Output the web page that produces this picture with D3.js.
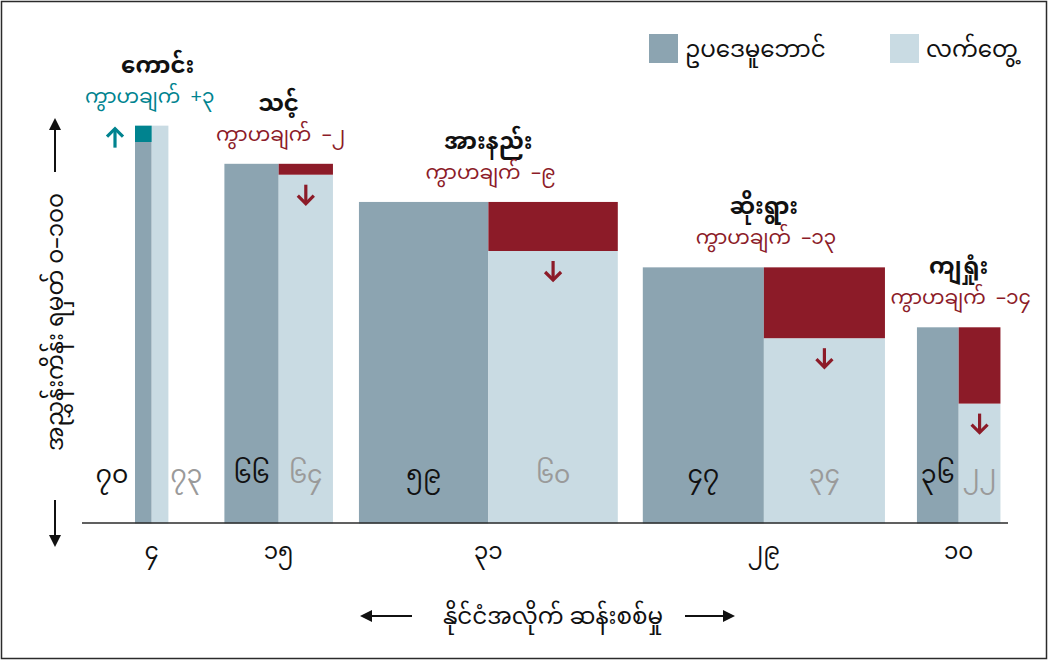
<!DOCTYPE html>
<html>
<head>
<meta charset="utf-8">
<script src="https://cdn.jsdelivr.net/npm/d3@7/dist/d3.min.js"></script>
<style>
  html, body { margin: 0; padding: 0; background: #fff; }
  svg { display: block; }
  text { font-family: "Noto Sans Myanmar", "Padauk", "Myanmar Text", "Noto Sans", sans-serif; }
</style>
</head>
<body>
<svg id="chart" width="1048" height="660"></svg>
<script>
// ---------- data ----------
const countries = ["ကောင်း", "သင့်", "အားနည်း", "ဆိုးရွား", "ကျရှုံး"];
const share = [4, 13, 31, 29, 10];                 // width of each group
const shareLabels = ["၄", "၁၅", "၃၁", "၂၉", "၁၀"];
const legal = [70, 66, 59, 47, 36];                 // ဥပဒေမူဘောင်
const practice = [73, 64, 50, 34, 22];              // လက်တွေ့
const legalLabels = ["၇၀", "၆၆", "၅၉", "၄၇", "၃၆"];
const practiceLabels = ["၇၃", "၆၄", "၆၀", "၃၄", "၂၂"];
const seriesNames = ["ဥပဒေမူဘောင်", "လက်တွေ့"];
const gapWord = "ကွာဟချက်";
const yTitle = "အညွှန်းကိန်း ရမှတ် ၀–၁၀၀";
const xTitle = "နိုင်ငံအလိုက် ဆန်းစစ်မှု";

// ---------- style ----------
const C = { legal: "#8ca4b1", practice: "#c9dbe3", down: "#8c1b28", up: "#00838f", ink: "#111", grey: "#9a9a9a" };
const groupGaps = [56, 26, 25, 32];

const myDigits = "၀၁၂၃၄၅၆၇၈၉";
const toMy = n => String(Math.abs(n)).split("").map(d => myDigits[+d]).join("");

const svg = d3.select("#chart");

// frame
svg.append("rect").attr("x", 1.5).attr("y", 1.5).attr("width", 1045).attr("height", 657)
  .attr("fill", "none").attr("stroke", "#2b2b2b").attr("stroke-width", 1.5);

const y = d3.scaleLinear().domain([0, 100]).range([523.5, 523.5 - 545]);
const w = d3.scaleLinear().domain([0, 10]).range([0, 83.5]);

// group x positions
const x0 = 135;
const starts = [];
share.reduce((acc, s, i) => { starts.push(acc); return acc + w(s) + (groupGaps[i] || 0); }, x0);

const groups = countries.map((c, i) => {
  const gw = w(share[i]);
  return { i, name: c, x: starts[i], gw, half: gw / 2, legal: legal[i], practice: practice[i], diff: practice[i] - legal[i] };
});

const g = svg.append("g");

// bars
groups.forEach(d => {
  g.append("rect").attr("x", d.x).attr("width", d.half)
    .attr("y", y(d.legal)).attr("height", y(0) - y(d.legal)).attr("fill", C.legal);
  g.append("rect").attr("x", d.x + d.half).attr("width", d.half)
    .attr("y", y(d.practice)).attr("height", y(0) - y(d.practice)).attr("fill", C.practice);
  if (d.diff < 0) {
    g.append("rect").attr("x", d.x + d.half).attr("width", d.half)
      .attr("y", y(d.legal)).attr("height", y(d.practice) - y(d.legal)).attr("fill", C.down);
    const ax = d.x + d.half * 1.5, ay = y(d.practice) + 10, len = 19;
    g.append("line").attr("x1", ax).attr("x2", ax).attr("y1", ay).attr("y2", ay + len)
      .attr("stroke", C.down).attr("stroke-width", 3.2);
    g.append("path").attr("d", `M${ax - 8},${ay + len - 8} L${ax},${ay + len} L${ax + 8},${ay + len - 8}`)
      .attr("fill", "none").attr("stroke", C.down).attr("stroke-width", 3.2);
  } else {
    g.append("rect").attr("x", d.x).attr("width", d.half)
      .attr("y", y(d.practice)).attr("height", y(d.legal) - y(d.practice)).attr("fill", C.up);
    const ax = d.x - 20, ay = y(d.practice) + 3, len = 19;
    g.append("line").attr("x1", ax).attr("x2", ax).attr("y1", ay).attr("y2", ay + len)
      .attr("stroke", C.up).attr("stroke-width", 3.2);
    g.append("path").attr("d", `M${ax - 8},${ay + 8} L${ax},${ay} L${ax + 8},${ay + 8}`)
      .attr("fill", "none").attr("stroke", C.up).attr("stroke-width", 3.2);
  }

  const top = y(Math.max(d.legal, d.practice));
  const cx = d.x + d.gw / 2;
  g.append("text").attr("x", cx + (d.i === 0 ? 6 : 0)).attr("y", top - 53).attr("text-anchor", "middle")
    .attr("font-size", 23).attr("font-weight", "bold").attr("fill", C.ink).text(d.name);
  const sign = d.diff >= 0 ? "+" : "–";
  g.append("text").attr("x", cx + (d.i === 0 ? -2 : 2)).attr("y", top - 23).attr("text-anchor", "middle")
    .attr("font-size", 20).attr("fill", d.diff >= 0 ? C.up : C.down)
    .attr("xml:space", "preserve").text(`${gapWord}  ${sign}${toMy(d.diff)}`);

  const narrow = d.half < 30;
  g.append("text").attr("x", narrow ? d.x - 23 : d.x + d.half / 2).attr("y", 483)
    .attr("text-anchor", "middle").attr("font-size", 25).attr("fill", C.ink).text(legalLabels[d.i]);
  g.append("text").attr("x", narrow ? d.x + d.gw + 18 : d.x + d.half * 1.5).attr("y", 483)
    .attr("text-anchor", "middle").attr("font-size", 25).attr("fill", C.grey).text(practiceLabels[d.i]);

  g.append("text").attr("x", cx).attr("y", 559).attr("text-anchor", "middle")
    .attr("font-size", 23).attr("fill", C.ink).text(shareLabels[d.i]);
});

// baseline
svg.append("line").attr("x1", 82).attr("x2", 1008).attr("y1", y(0) - 0.5).attr("y2", y(0) - 0.5)
  .attr("stroke", "#2b2b2b").attr("stroke-width", 1.5);

function arrow(x1, y1, x2, y2) {
  const a = Math.atan2(y2 - y1, x2 - x1), L = 12, W = 6;
  svg.append("line").attr("x1", x1).attr("y1", y1)
    .attr("x2", x2 - Math.cos(a) * L * 0.8).attr("y2", y2 - Math.sin(a) * L * 0.8)
    .attr("stroke", "#111").attr("stroke-width", 2);
  const bx = x2 - Math.cos(a) * L, by = y2 - Math.sin(a) * L;
  svg.append("path").attr("fill", "#111")
    .attr("d", `M${x2},${y2} L${bx + Math.sin(a) * W},${by - Math.cos(a) * W} L${bx - Math.sin(a) * W},${by + Math.cos(a) * W} Z`);
}

// y-axis title with arrows
svg.append("text").attr("transform", "translate(63,322) rotate(-90)").attr("text-anchor", "middle")
  .attr("font-size", 23).attr("fill", C.ink).text(yTitle);
arrow(55, 172, 55, 118);
arrow(55, 500, 55, 547);

// x-axis title with arrows
svg.append("text").attr("x", 553).attr("y", 624).attr("text-anchor", "middle")
  .attr("font-size", 23).attr("fill", C.ink).text(xTitle);
arrow(412, 616, 360, 616);
arrow(685, 616, 735, 616);

// legend
const leg = svg.append("g");
[[649, C.legal], [890, C.practice]].forEach(([lx, col], i) => {
  leg.append("rect").attr("x", lx).attr("y", 34).attr("width", 29).attr("height", 29).attr("fill", col);
  leg.append("text").attr("x", lx + 36).attr("y", 57).attr("font-size", 23).attr("fill", C.ink).text(seriesNames[i]);
});
</script>
</body>
</html>
